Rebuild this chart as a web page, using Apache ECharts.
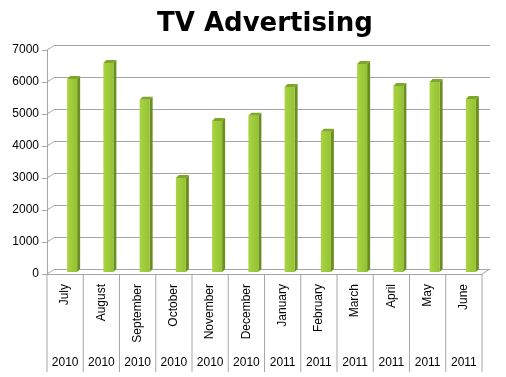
<!DOCTYPE html>
<html>
<head>
<meta charset="utf-8">
<script src="https://cdn.jsdelivr.net/npm/echarts@6/dist/echarts.min.js"></script>
<style>
html, body { margin: 0; padding: 0; background: #fff; }
#main { width: 506px; height: 377px; }
</style>
</head>
<body>
<div id="main"></div>
<script>
// data
const months = ['July', 'August', 'September', 'October', 'November', 'December',
  'January', 'February', 'March', 'April', 'May', 'June'];
const years = ['2010', '2010', '2010', '2010', '2010', '2010',
  '2011', '2011', '2011', '2011', '2011', '2011'];
const spend = [6030, 6530, 5380, 2940, 4720, 4880, 5780, 4380, 6500, 5810, 5940, 5410];
const yTicks = [0, 1000, 2000, 3000, 4000, 5000, 6000, 7000];

const font = '"Liberation Sans", Arial, sans-serif';
const gridColor = '#a6a6a6';

// 3D box for each column
function renderBar(params, api) {
  const top = api.coord([api.value(0), api.value(1)]);
  const base = api.coord([api.value(0), 0]);
  const x0 = top[0] + 2, x1 = top[0] + 12;
  const y0 = base[1] - 2, y1 = top[1] - 2;
  const dx = 3, dy = 3;
  return {
    type: 'group',
    children: [
      { type: 'polygon', shape: { points: [[x1, y1], [x1 + dx, y1 - dy], [x1 + dx, y0 - dy], [x1, y0]] },
        style: { fill: '#6b8f1f' } },
      { type: 'polygon', shape: { points: [[x0, y1], [x0 + dx, y1 - dy], [x1 + dx, y1 - dy], [x1, y1]] },
        style: { fill: '#7fa52a' } },
      { type: 'rect', shape: { x: x0, y: y1, width: x1 - x0, height: y0 - y1 },
        style: { fill: new echarts.graphic.LinearGradient(0, 0, 1, 0, [
          { offset: 0, color: '#a9d443' }, { offset: 1, color: '#94c232' }]) } }
    ]
  };
}

// diagonal edges of the left wall and floor
function renderEdges(params, api) {
  const cs = params.coordSys;
  const y = api.coord([0, api.value(0)])[1];
  const children = [{ type: 'line', shape: { x1: cs.x, y1: y, x2: cs.x + 8, y2: y - 5 },
    style: { stroke: gridColor, lineWidth: 1 } }];
  if (api.value(0) === 0) {
    children.push({ type: 'line', shape: { x1: cs.x + cs.width, y1: y, x2: cs.x + cs.width + 8, y2: y - 5 },
      style: { stroke: gridColor, lineWidth: 1 } });
  }
  return { type: 'group', children: children };
}

// table dividers under the category axis
function renderDividers(params, api) {
  const cs = params.coordSys;
  const c = api.coord([api.value(0), 0]);
  const half = api.size([1, 0])[0] / 2;
  const lines = [{ type: 'line', shape: { x1: c[0] - half, y1: c[1], x2: c[0] - half, y2: c[1] + 98 },
    style: { stroke: gridColor, lineWidth: 1 } }];
  if (params.dataIndex === months.length - 1) {
    lines.push({ type: 'line', shape: { x1: c[0] + half, y1: c[1], x2: c[0] + half, y2: c[1] + 98 },
      style: { stroke: gridColor, lineWidth: 1 } });
  }
  return { type: 'group', children: lines };
}

const myChart = echarts.init(document.getElementById('main'));
myChart.setOption({
  animation: false,
  title: {
    text: 'TV Advertising',
    left: 152,
    top: 6,
    textStyle: { fontFamily: '"DejaVu Sans", Verdana, sans-serif', fontWeight: 'bold', fontSize: 26, color: '#000' }
  },
  grid: [
    { left: 47, right: 24, top: 50, bottom: 103 },
    { left: 55, right: 16, top: 45, bottom: 108 }
  ],
  xAxis: [
    {
      type: 'category', gridIndex: 0, data: months,
      axisLine: { lineStyle: { color: gridColor } },
      axisTick: { show: false },
      axisLabel: { rotate: 90, margin: 10, fontFamily: font, fontSize: 12, color: '#000', interval: 0 }
    },
    {
      type: 'category', gridIndex: 0, data: years, position: 'bottom', offset: 79,
      axisLine: { show: false }, axisTick: { show: false },
      axisLabel: { margin: 4, fontFamily: font, fontSize: 12, color: '#000', interval: 0 }
    },
    { type: 'category', gridIndex: 1, data: months, show: false }
  ],
  yAxis: [
    {
      type: 'value', gridIndex: 0, min: 0, max: 7000, interval: 1000,
      axisLine: { show: true, lineStyle: { color: gridColor } },
      axisTick: { show: true, length: 5, lineStyle: { color: gridColor } },
      splitLine: { show: false },
      axisLabel: { margin: 8, fontFamily: font, fontSize: 12, color: '#000', formatter: v => String(v) }
    },
    {
      type: 'value', gridIndex: 1, min: 0, max: 7000, interval: 1000,
      axisLine: { show: false }, axisTick: { show: false }, axisLabel: { show: false },
      splitLine: { lineStyle: { color: gridColor, width: 1 } }
    }
  ],
  series: [
    {
      type: 'custom', xAxisIndex: 0, yAxisIndex: 0,
      data: yTicks.map(v => [v]), encode: { y: 0 },
      renderItem: renderEdges, silent: true, z: 1
    },
    {
      type: 'custom', xAxisIndex: 0, yAxisIndex: 0,
      data: months.map((m, i) => [i]), encode: { x: 0 },
      renderItem: renderDividers, silent: true, z: 1
    },
    {
      type: 'custom', name: 'TV Advertising', xAxisIndex: 0, yAxisIndex: 0,
      data: spend.map((v, i) => [i, v]), encode: { x: 0, y: 1 },
      renderItem: renderBar, z: 3
    }
  ]
});
</script>
</body>
</html>
